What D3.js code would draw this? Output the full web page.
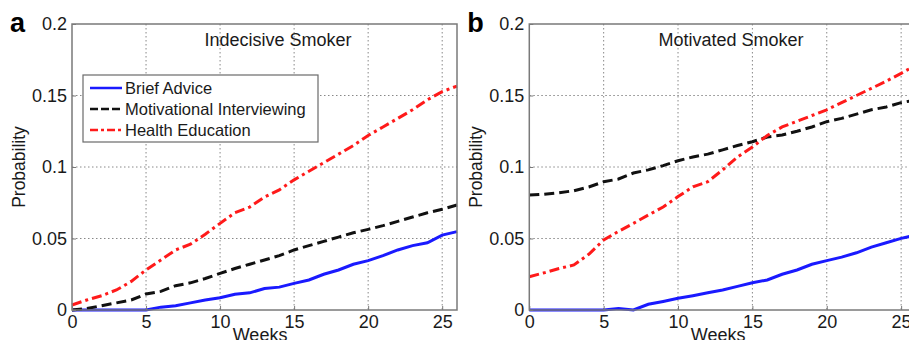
<!DOCTYPE html>
<html>
<head>
<meta charset="utf-8">
<script src="https://cdn.jsdelivr.net/npm/d3@7"></script>
<style>
  body { margin: 0; background: #fff; }
  text { font-family: "Liberation Sans", Arial, sans-serif; }
</style>
</head>
<body>
<svg id="chart" width="909" height="340"></svg>
<script>
// weeks on the x axis
const weeks = d3.range(0, 27);
const xTicks = [0, 5, 10, 15, 20, 25];
const yTicks = [0, 0.05, 0.1, 0.15, 0.2];
const yTickLabels = ["0", "0.05", "0.1", "0.15", "0.2"];

const seriesNames = ["Brief Advice", "Motivational Interviewing", "Health Education"];

// panel a - indecisive smoker
const indecisiveBrief = [0, 0, 0, 0, 0, 0, 0.002, 0.003, 0.005, 0.007, 0.0086, 0.011, 0.012, 0.015, 0.016, 0.0186,
  0.021, 0.025, 0.028, 0.032, 0.0345, 0.038, 0.042, 0.045, 0.047, 0.0524, 0.0548];
const indecisiveMI = [0, 0.001, 0.003, 0.005, 0.007, 0.0112, 0.013, 0.017, 0.019, 0.022, 0.0256, 0.029, 0.032, 0.035,
  0.038, 0.042, 0.045, 0.048, 0.051, 0.054, 0.0564, 0.059, 0.062, 0.065, 0.068, 0.0704, 0.0734];
const indecisiveHE = [0.0035, 0.007, 0.01, 0.014, 0.02, 0.028, 0.035, 0.042, 0.046, 0.053, 0.0606, 0.068, 0.072,
  0.079, 0.084, 0.091, 0.097, 0.103, 0.109, 0.115, 0.122, 0.128, 0.134, 0.14, 0.147, 0.1527, 0.1566];

// panel b - motivated smoker
const motivatedBrief = [0, 0, 0, 0, 0, 0, 0.001, 0, 0.004, 0.006, 0.0082, 0.01, 0.012, 0.014, 0.0165, 0.0191,
  0.021, 0.025, 0.028, 0.032, 0.0345, 0.037, 0.04, 0.044, 0.047, 0.0501, 0.0524];
const motivatedMI = [0.0804, 0.081, 0.082, 0.0834, 0.086, 0.0897, 0.0916, 0.0958, 0.098, 0.101, 0.1044, 0.107,
  0.109, 0.112, 0.115, 0.1177, 0.121, 0.1224, 0.125, 0.128, 0.1317, 0.134, 0.137, 0.14, 0.142, 0.145, 0.1469];
const motivatedHE = [0.0233, 0.026, 0.029, 0.0315, 0.039, 0.049, 0.055, 0.0606, 0.0664, 0.072, 0.0793, 0.0862,
  0.0897, 0.098, 0.107, 0.114, 0.122, 0.128, 0.132, 0.136, 0.14, 0.145, 0.15, 0.155, 0.16, 0.1655, 0.1713];

const colors = ["#1a1aff", "#111111", "#ff1a1a"];
const dashes = [null, "10,5", "10,4,3,4"];

const panels = [
  { letter: "a", title: "Indecisive Smoker", left: 72, right: 457, titleX: 278,
    series: [indecisiveBrief, indecisiveMI, indecisiveHE], legend: true },
  { letter: "b", title: "Motivated Smoker", left: 529.3, right: 916, titleX: 731,
    series: [motivatedBrief, motivatedMI, motivatedHE], legend: false }
];

const svg = d3.select("#chart");
const plotTop = 24, plotBottom = 310;
const y = d3.scaleLinear().domain([0, 0.2]).range([plotBottom, plotTop]);

panels.forEach(p => {
  const x = d3.scaleLinear().domain([0, 26]).range([p.left, p.right]);
  const g = svg.append("g");

  // grid
  g.selectAll(".vgrid").data(xTicks.filter(d => d > 0)).enter().append("line")
    .attr("x1", d => x(d)).attr("x2", d => x(d))
    .attr("y1", plotTop).attr("y2", plotBottom)
    .attr("stroke", "#888").attr("stroke-width", 1).attr("stroke-dasharray", "1.5,2.5");
  g.selectAll(".hgrid").data(yTicks.filter(d => d > 0 && d < 0.2)).enter().append("line")
    .attr("x1", p.left).attr("x2", p.right)
    .attr("y1", d => y(d)).attr("y2", d => y(d))
    .attr("stroke", "#888").attr("stroke-width", 1).attr("stroke-dasharray", "1.5,2.5");

  // lines
  p.series.forEach((vals, i) => {
    const line = d3.line().x((d, j) => x(weeks[j])).y(d => y(d));
    g.append("path").datum(vals)
      .attr("d", line)
      .attr("fill", "none")
      .attr("stroke", colors[i])
      .attr("stroke-width", 3)
      .attr("stroke-dasharray", dashes[i]);
  });

  // box
  g.append("rect")
    .attr("x", p.left).attr("y", plotTop)
    .attr("width", p.right - p.left).attr("height", plotBottom - plotTop)
    .attr("fill", "none").attr("stroke", "#7a7a7a").attr("stroke-width", 1.5);

  // axes
  const xAxis = d3.axisBottom(x).tickValues(xTicks).tickSize(-4).tickPadding(5);
  const xg = g.append("g").attr("transform", `translate(0,${plotBottom})`).call(xAxis);
  const yAxis = d3.axisLeft(y).tickValues(yTicks).tickSize(-4).tickPadding(5)
    .tickFormat((d, i) => yTickLabels[i]);
  const yg = g.append("g").attr("transform", `translate(${p.left},0)`).call(yAxis);
  [xg, yg].forEach(a => {
    a.select(".domain").remove();
    a.selectAll(".tick line").attr("stroke", "#7a7a7a");
    a.selectAll("text").attr("font-size", 18).attr("fill", "#1a1a1a")
      .style("font-family", "'Liberation Sans', Arial, sans-serif");
  });
  xg.selectAll("text").attr("dy", "0.72em");

  // labels
  g.append("text").attr("x", x(12.7)).attr("y", 341)
    .attr("text-anchor", "middle").attr("font-size", 18).attr("fill", "#1a1a1a").text("Weeks");
  g.append("text")
    .attr("transform", `translate(${p.left - 47},${y(0.1)}) rotate(-90)`)
    .attr("text-anchor", "middle").attr("font-size", 17.5).attr("fill", "#1a1a1a").text("Probability");
  g.append("text").attr("x", p.titleX).attr("y", 46)
    .attr("text-anchor", "middle").attr("font-size", 18).attr("fill", "#1a1a1a").text(p.title);
  g.append("text").attr("x", p.left - 62).attr("y", 32)
    .attr("font-size", 27).attr("font-weight", "bold").attr("fill", "#000").text(p.letter);

  if (p.legend) {
    const lg = g.append("g");
    lg.append("rect").attr("x", 83).attr("y", 75).attr("width", 235).attr("height", 67)
      .attr("fill", "#fff").attr("stroke", "#6a6a6a").attr("stroke-width", 1.2);
    seriesNames.forEach((name, i) => {
      const ly = 88 + i * 21;
      lg.append("line").attr("x1", 90).attr("x2", 122).attr("y1", ly).attr("y2", ly)
        .attr("stroke", colors[i]).attr("stroke-width", 2.5)
        .attr("stroke-dasharray", i === 0 ? null : (i === 1 ? "8,3" : "8,3,3,3"));
      lg.append("text").attr("x", 125).attr("y", ly + 6)
        .attr("font-size", 16.5).attr("fill", "#1a1a1a").text(name);
    });
  }
});
</script>
</body>
</html>
